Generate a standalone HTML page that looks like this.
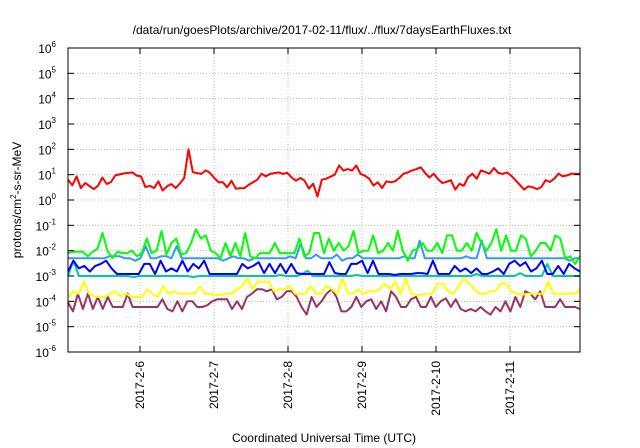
<!DOCTYPE html>
<html><head><meta charset="utf-8"><style>
body{margin:0;background:#fff;}
svg{display:block;font-family:"Liberation Sans",sans-serif;}
</style></head><body>
<svg id="chart" width="640" height="448" viewBox="0 0 640 448" xmlns="http://www.w3.org/2000/svg">
<text x="322" y="34" font-size="12" text-anchor="middle" fill="#000">/data/run/goesPlots/archive/2017-02-11/flux/../flux/7daysEarthFluxes.txt</text>
<text x="324" y="442" font-size="12" text-anchor="middle" fill="#000">Coordinated Universal Time (UTC)</text>
<text transform="translate(21,200) rotate(-90)" font-size="12" text-anchor="middle" fill="#000">protons/cm<tspan font-size="8" dy="-5">2</tspan><tspan dy="5">-s-sr-MeV</tspan></text>
<g id="grid"></g><g id="series"></g><g id="axes"></g>
</svg>
<script>
const yExponents=[-6,-5,-4,-3,-2,-1,0,1,2,3,4,5,6];
const xTickDays=[6,7,8,9,10,11];
const xTickLabels=["2017-2-6","2017-2-7","2017-2-8","2017-2-9","2017-2-10","2017-2-11"];
const redLog10=[.80,.58,.93,.47,.67,.55,.43,.57,.89,.63,.71,.97,1.01,1.05,1.07,1.09,.96,.93,.51,.56,.47,.74,.37,.54,.63,.47,.65,.87,2.0,1.1,1.06,1.03,1.17,1.07,.87,.7,.7,.5,.76,.45,.46,.47,.6,.7,.8,1.04,.93,1.03,1.06,1.09,1.03,1.07,.89,.76,.87,.76,.45,.64,.14,.8,.84,.92,1.0,1.36,1.16,1.22,1.16,1.36,1.03,.96,.84,.57,.7,.47,.74,.7,.74,.87,1.04,1.09,1.17,1.22,1.29,1.07,.89,1.04,.83,.67,.72,.78,.41,.64,.56,.9,1.04,.84,1.17,1.1,1.04,1.26,1.07,1.03,1.09,.96,.78,.6,.41,.54,.5,.43,.51,.78,.71,.84,1.04,.93,.97,1.04,1.04,1.04];
const red=redLog10.map(l=>Math.pow(10,l));
const green=[8e-3,9e-3,9e-3,9e-3,6e-3,9e-3,1.2e-2,5e-2,1e-2,5e-3,9e-3,8e-3,8e-3,1e-2,6e-3,8e-3,3e-2,8e-3,1e-2,6e-2,7e-3,2e-2,3e-2,7e-3,8e-3,2e-2,7e-2,3e-2,4e-2,1e-2,8e-3,5e-3,2e-2,6e-3,2e-2,6e-3,5e-2,6e-3,5e-3,8e-3,8e-3,8e-3,2e-2,8e-3,8e-3,8e-3,8e-3,3e-2,6e-3,8e-3,5e-2,5e-2,8e-3,3e-2,1e-2,2e-2,1e-2,1.5e-2,6e-2,8e-3,1e-2,1e-2,4e-2,8e-3,1e-2,2e-2,1e-2,6e-2,1e-2,4e-3,1e-2,1.2e-2,2e-2,1e-2,1e-2,2e-2,8e-3,4e-2,4e-2,1e-2,1e-2,2e-2,1e-2,5e-2,2e-2,1e-2,2e-2,7e-2,1e-2,4e-2,1e-2,1e-2,4e-2,3e-2,6e-3,1e-2,2e-2,2e-2,1e-2,4e-2,3e-2,5e-3,6e-3,3e-3,6e-3];
const lightBlue=[5e-3,5e-3,5e-3,5e-3,5e-3,5e-3,5e-3,5e-3,6e-3,6e-3,6e-3,5e-3,5e-3,4e-3,5e-3,1.5e-2,5e-3,5e-3,6e-3,6e-3,5e-3,1.5e-2,5e-3,5e-3,5e-3,5e-3,5e-3,5e-3,5e-3,5e-3,4e-3,5e-3,6e-3,5e-3,5e-3,4e-3,5e-3,5e-3,5e-3,5e-3,5e-3,5e-3,5e-3,6e-3,5e-3,2e-2,5e-3,5e-3,7e-3,5e-3,5e-3,5e-3,7e-3,4e-3,5e-3,5e-3,7e-3,5e-3,5e-3,5e-3,5e-3,5e-3,5e-3,5e-3,5e-3,6e-3,5e-3,5e-3,2.5e-2,5e-3,5e-3,5e-3,5e-3,5e-3,5e-3,5e-3,5e-3,6e-3,5e-3,5e-3,2.5e-2,5e-3,5e-3,5e-3,5e-3,5e-3,5e-3,5e-3,5e-3,5e-3,5e-3,5e-3,5e-3,5e-3,5e-3,5e-3,5e-3,4e-3,5e-3,5e-3];
const blue=[1.5e-3,4e-3,2e-3,2.5e-3,1.5e-3,2.5e-3,3e-3,4e-3,2e-3,1.2e-3,1.2e-3,1.2e-3,1.2e-3,1.2e-3,3e-3,3e-3,1.2e-3,4e-3,1.5e-3,2e-3,1.5e-3,4e-3,1.5e-3,3e-3,2e-3,4e-3,1.2e-3,1.2e-3,1.2e-3,1.2e-3,1.2e-3,1.2e-3,3e-3,2e-3,2.5e-3,3.5e-3,1.3e-3,3e-3,1.3e-3,3e-3,1.3e-3,3e-3,1.3e-3,1.2e-3,1.2e-3,1.2e-3,1.2e-3,1.2e-3,3.5e-3,1.3e-3,1.2e-3,1.2e-3,3e-3,3e-3,4e-3,1.3e-3,4e-3,1.2e-3,1.2e-3,1.2e-3,1.1e-3,1.2e-3,1.2e-3,1.2e-3,1.3e-3,1.3e-3,1.2e-3,4e-3,1.2e-3,1.2e-3,1.2e-3,2.5e-3,1.5e-3,2e-3,1.3e-3,2e-3,1.2e-3,1.2e-3,1.5e-3,2e-3,1.2e-3,3e-3,4e-3,2.5e-3,3.5e-3,1.5e-3,2e-3,4e-3,1.2e-3,1.2e-3,2.5e-3,1.2e-3,3e-3,2e-3,1.5e-3];
const teal=[1e-3,4e-3,1e-3,1e-3,1e-3,1e-3,1e-3,1e-3,1e-3,1e-3,1e-3,1e-3,9e-4,1e-3,1e-3,1e-3,1e-3,1e-3,1e-3,1e-3,1e-3,1e-3,1e-3,9e-4,1e-3,1e-3,1e-3,1e-3,1e-3,1e-3,1e-3,1e-3,1e-3,1e-3,1e-3,1e-3,1e-3,1e-3,1e-3,1.1e-3,1e-3,1e-3,1e-3,1.2e-3,1.6e-3,1e-3,1e-3,1e-3,1e-3,1e-3,1e-3,1e-3,1e-3,1.1e-3,1e-3,1e-3,1e-3,1e-3,1e-3,1e-3,1e-3,1e-3,1e-3,1e-3,1e-3,1e-3,1e-3,1e-3,1e-3,1e-3,1e-3,1e-3,1e-3,1e-3,1e-3,1.2e-3,1e-3,1e-3,1e-3,1e-3,1e-3,1e-3,1e-3,1.3e-3,1e-3,1e-3,1e-3,1e-3,3e-3,1e-3,1e-3,1e-3,1e-3,1e-3,1e-3];
const yellow=[1.5e-4,2.5e-4,2e-4,6e-4,2e-4,1.5e-4,1.5e-4,1.5e-4,2e-4,2.5e-4,1.5e-4,2e-4,1.5e-4,1.5e-4,1.5e-4,3e-4,2e-4,1.5e-4,4e-4,2e-4,2.5e-4,2e-4,2e-4,2e-4,2e-4,4e-4,2e-4,2e-4,1.8e-4,1.8e-4,2e-4,2e-4,3e-4,4e-4,8e-4,3e-4,6e-4,6e-4,6e-4,2.5e-4,3e-4,3e-4,4e-4,2e-4,2e-4,2e-4,4e-4,2e-4,2e-4,4e-4,3e-4,2e-4,8e-4,2e-4,2e-4,3e-4,2e-4,2.5e-4,2.5e-4,3e-4,5e-4,3e-4,6e-4,2e-4,8e-4,2e-4,1.8e-4,1.8e-4,2e-4,2e-4,5e-4,5e-4,2.5e-4,2e-4,4e-4,8e-4,5e-4,3e-4,2e-4,2e-4,2.5e-4,2.5e-4,5e-4,5e-4,2.5e-4,2e-4,1.8e-4,2e-4,2e-4,2e-4,2e-4,6e-4,2e-4,2e-4,2e-4,2e-4,2e-4,3e-4];
const purple=[9e-5,4e-5,2e-4,5e-5,2e-4,5e-5,1.5e-4,5e-5,1.5e-4,6e-5,6e-5,6e-5,2e-4,6e-5,6e-5,6e-5,6e-5,6e-5,6e-5,1.2e-4,5e-5,4e-5,1e-4,4e-5,1e-4,1e-4,6e-5,6e-5,7e-5,1e-4,1.2e-4,1.2e-4,1.2e-4,5e-5,1e-4,5e-5,1.5e-4,2e-4,3e-4,3e-4,2.5e-4,3e-4,1.2e-4,1.5e-4,2.5e-4,2.5e-4,1.5e-4,6e-5,3e-5,1.5e-4,6e-5,1e-4,2e-4,3e-4,1.5e-4,4e-5,4e-5,6e-5,1.5e-4,6e-5,1e-4,1.2e-4,5e-5,1e-4,4e-5,2.5e-4,1.5e-4,6e-5,6e-5,1.2e-4,1.5e-4,6e-5,6e-5,1.5e-4,6e-5,1e-4,1.3e-4,6e-5,1.2e-4,5e-5,4e-5,5e-5,4e-5,6e-5,4e-5,3e-5,6e-5,4e-5,1e-4,4e-5,1.5e-4,6e-5,2.5e-4,2e-4,1.2e-4,2.5e-4,6e-5,6e-5,6e-5,1.2e-4,6e-5,6e-5,6e-5,5e-5];
const seriesList=[["purple",purple,"#993366"],["yellow",yellow,"#ffff00"],["teal",teal,"#00cc99"],["blue",blue,"#0000ff"],["light-blue",lightBlue,"#3399ff"],["green",green,"#00ff00"],["red",red,"#ff0000"]];
const L=68,R=580,T=48,B=352,D0=5.027,D1=11.946;
const NS="http://www.w3.org/2000/svg";
function xScale(d){return L+(d-D0)/(D1-D0)*(R-L);}
function yScale(v){return B-(Math.log10(v)+6)/12*(B-T);}
function mk(tag,attrs,parent){const e=document.createElementNS(NS,tag);for(const k in attrs)e.setAttribute(k,attrs[k]);parent.appendChild(e);return e;}
const grid=document.getElementById('grid'),axes=document.getElementById('axes'),sg=document.getElementById('series');
yExponents.forEach(ex=>{
  const y=yScale(Math.pow(10,ex));
  if(ex>-6&&ex<6){const g=mk('line',{x1:L,x2:R,y1:y,y2:y,stroke:'#bbb','stroke-dasharray':'1,2','stroke-width':1},grid);
  
  }
  mk('line',{x1:L,x2:L+6,y1:y,y2:y,stroke:'#000'},axes);
  mk('line',{x1:R-6,x2:R,y1:y,y2:y,stroke:'#000'},axes);
  const t=mk('text',{x:L-12,y:y+5,'font-size':12,'text-anchor':'end',fill:'#000'},axes);
  
  
  t.textContent='10';
  const s=mk('tspan',{'font-size':8,dy:-6},t);s.textContent=String(ex);
});
xTickDays.forEach((d,i)=>{
  const x=xScale(d);
  const g=mk('line',{x1:x,x2:x,y1:T,y2:B,stroke:'#bbb','stroke-dasharray':'1,2'},grid);
  
  
  mk('line',{x1:x,x2:x,y1:B,y2:B-6,stroke:'#000'},axes);
  mk('line',{x1:x,x2:x,y1:T,y2:T+6,stroke:'#000'},axes);
  const t=mk('text',{transform:`translate(${x+4},${B+9}) rotate(-90)`,'font-size':12,'text-anchor':'end',fill:'#000'},axes);
  
  
  t.textContent=xTickLabels[i];
});
const fr=mk('rect',{x:L,y:T,width:R-L,height:B-T,fill:'none',stroke:'#000'},axes);


seriesList.forEach(([name,vals,col])=>{
  const n=vals.length;
  const pts=vals.map((v,i)=>xScale(D0+i*(D1-D0)/(n-1)).toFixed(1)+','+yScale(v).toFixed(1)).join(' ');
  const p=mk('polyline',{points:pts,fill:'none',stroke:col,'stroke-width':2,'stroke-linejoin':'round'},sg);
  
  
});
</script>
</body></html>
